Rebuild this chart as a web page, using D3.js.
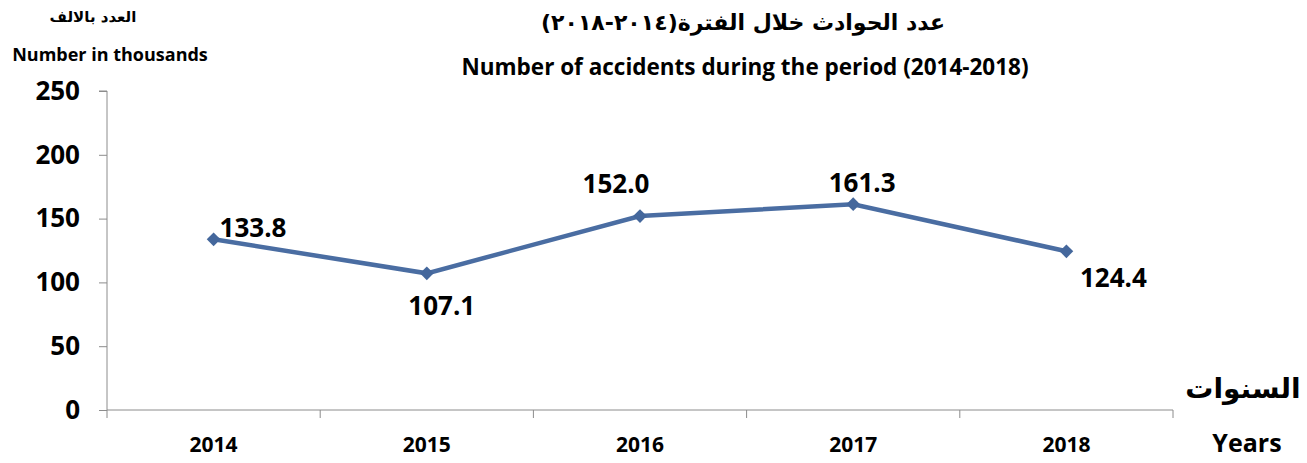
<!DOCTYPE html>
<html>
<head>
<meta charset="utf-8">
<script src="https://cdn.jsdelivr.net/npm/d3@7"></script>
<style>
  body { margin: 0; background: #fff; }
  text { font-family: "Open Sans", Lato, sans-serif; font-weight: bold; fill: #000; }
  .ar { font-family: "DejaVu Sans", sans-serif; }
</style>
</head>
<body>
<svg id="chart"></svg>
<script>
// data
const years = ["2014", "2015", "2016", "2017", "2018"];
const accidents = [133.8, 107.1, 152.0, 161.3, 124.4];
const yTicks = [0, 50, 100, 150, 200, 250];

// where each data label sits relative to its point [dx, dy, anchor]
const labelOffsets = [
    [6, -2, "start"],
    [15, 42, "middle"],
    [-24, -23, "middle"],
    [9, -12, "middle"],
    [47, 36, "middle"]
];

function getChartConfig() {
    let width = 1307;
    let height = 463;
    let margin = {left: 107, right: 134, top: 91, bottom: 53};
    let svg = d3.select("#chart")
        .attr("width", width)
        .attr("height", height);
    return {width, height, margin, svg};
}

function drawChart() {
    const config = getChartConfig();
    const svg = config.svg;
    const m = config.margin;

    const x = d3.scaleBand()
        .domain(years)
        .range([m.left, config.width - m.right]);
    const y = d3.scaleLinear()
        .domain([0, 250])
        .range([config.height - m.bottom, m.top]);

    // y axis
    const yAxis = svg.append("g")
        .attr("transform", `translate(${m.left},0)`)
        .call(d3.axisLeft(y).tickValues(yTicks).tickSize(8).tickFormat(d3.format("d")));
    yAxis.select(".domain").attr("stroke", "#8c8c8c").attr("d", `M-8,${y(250)}H0V${y(0)}`);
    yAxis.selectAll(".tick line").attr("stroke", "#8c8c8c");
    yAxis.selectAll(".tick text")
        .attr("x", -27)
        .style("font-size", "26px")
        .style("font-family", "'Open Sans', sans-serif");

    // x axis, ticks at band edges
    const xAxis = svg.append("g")
        .attr("transform", `translate(0,${y(0)})`);
    xAxis.append("line")
        .attr("x1", m.left).attr("x2", config.width - m.right)
        .attr("stroke", "#8c8c8c");
    const edges = years.map(d => x(d)).concat([x(years[years.length - 1]) + x.bandwidth()]);
    xAxis.selectAll(".edge")
        .data(edges)
        .enter()
        .append("line")
        .attr("x1", d => d).attr("x2", d => d)
        .attr("y1", 0).attr("y2", 8)
        .attr("stroke", "#8c8c8c");
    xAxis.selectAll(".lbl")
        .data(years)
        .enter()
        .append("text")
        .attr("x", d => x(d) + x.bandwidth() / 2)
        .attr("y", 42)
        .attr("text-anchor", "middle")
        .style("font-size", "21px")
        .text(d => d);

    const cx = i => x(years[i]) + x.bandwidth() / 2;

    // line
    const line = d3.line()
        .x((d, i) => cx(i))
        .y(d => y(d));
    svg.append("path")
        .datum(accidents)
        .attr("d", line)
        .attr("fill", "none")
        .attr("stroke", "#4a6da2")
        .attr("stroke-width", 4.5);

    // diamond markers
    svg.selectAll(".marker")
        .data(accidents)
        .enter()
        .append("path")
        .attr("d", d3.symbol().type(d3.symbolDiamond2).size(120))
        .attr("transform", (d, i) => `translate(${cx(i)},${y(d)})`)
        .attr("fill", "#44679c");

    // data labels
    svg.selectAll(".val")
        .data(accidents)
        .enter()
        .append("text")
        .attr("x", (d, i) => cx(i) + labelOffsets[i][0])
        .attr("y", (d, i) => y(d) + labelOffsets[i][1])
        .attr("text-anchor", (d, i) => labelOffsets[i][2])
        .style("font-size", "26px")
        .text(d => d.toFixed(1));

    // titles
    svg.append("text")
        .attr("class", "ar")
        .attr("x", 743).attr("y", 30)
        .attr("text-anchor", "middle")
        .attr("direction", "rtl")
        .style("font-size", "22px")
        .text("عدد الحوادث خلال الفترة(٢٠١٤-٢٠١٨)");
    svg.append("text")
        .attr("x", 745).attr("y", 75)
        .attr("text-anchor", "middle")
        .style("font-size", "22.5px")
        .text("Number of accidents during the period (2014-2018)");

    // axis titles
    svg.append("text")
        .attr("class", "ar")
        .attr("x", 93).attr("y", 22)
        .attr("text-anchor", "middle")
        .attr("direction", "rtl")
        .style("font-size", "15px")
        .text("العدد بالالف");
    svg.append("text")
        .attr("x", 110).attr("y", 61)
        .attr("text-anchor", "middle")
        .style("font-size", "18px")
        .text("Number in thousands");
    svg.append("text")
        .attr("class", "ar")
        .attr("x", 1243).attr("y", 398)
        .attr("text-anchor", "middle")
        .attr("direction", "rtl")
        .style("font-size", "28px")
        .text("السنوات");
    svg.append("text")
        .attr("x", 1247).attr("y", 452)
        .attr("text-anchor", "middle")
        .style("font-size", "25px")
        .text("Years");
}

drawChart();
</script>
</body>
</html>
